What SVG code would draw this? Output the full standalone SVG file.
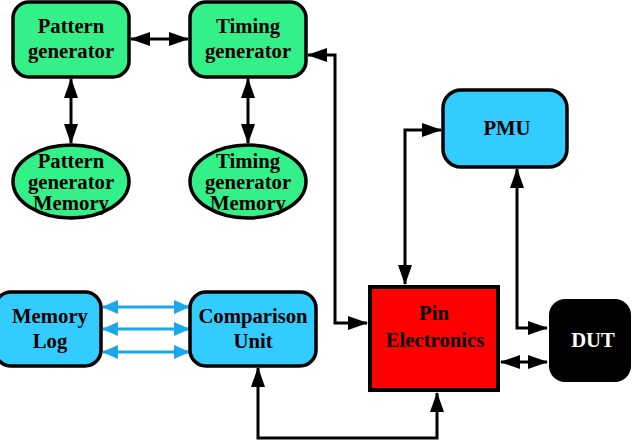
<svg xmlns="http://www.w3.org/2000/svg" width="632" height="442" viewBox="0 0 632 442">
<style>
.t{font-family:"Liberation Serif","Times New Roman",serif;font-weight:bold;font-size:20.7px;text-anchor:middle;fill:#000}
.g{fill:#33f088;stroke:#000;stroke-width:3.5}
.b{fill:#33ccff;stroke:#000;stroke-width:3.5}
.c{fill:none;stroke:#000;stroke-width:3}
.cb{fill:none;stroke:#1ba8ea;stroke-width:3}
</style>
<defs>
<marker id="ah" markerUnits="userSpaceOnUse" markerWidth="20" markerHeight="14" refX="19" refY="7" orient="auto-start-reverse" viewBox="0 0 20 14">
<path d="M0,0 L20,7 L0,14 z" fill="#000"/>
</marker>
<marker id="ahb" markerUnits="userSpaceOnUse" markerWidth="16" markerHeight="14" refX="15" refY="7" orient="auto-start-reverse" viewBox="0 0 16 14">
<path d="M0,0 L16,7 L0,14 z" fill="#1ba8ea"/>
</marker>
</defs>
<rect width="632" height="442" fill="#fff"/>
<g id="connectors">
<path class="c" d="M131,39 H188" marker-start="url(#ah)" marker-end="url(#ah)"/>
<path class="c" d="M71,79 V143" marker-start="url(#ah)" marker-end="url(#ah)"/>
<path class="c" d="M248,79 V143" marker-start="url(#ah)" marker-end="url(#ah)"/>
<path class="c" d="M308,55 H335 V323 H367" marker-start="url(#ah)" marker-end="url(#ah)"/>
<path class="c" d="M441,130 H405 V284" marker-start="url(#ah)" marker-end="url(#ah)"/>
<path class="c" d="M517,169 V328 H547" marker-start="url(#ah)" marker-end="url(#ah)"/>
<path class="c" d="M501,362 H547" marker-start="url(#ah)" marker-end="url(#ah)"/>
<path class="c" d="M258,368 V438 H437 V393" marker-start="url(#ah)" marker-end="url(#ah)"/>
<path class="cb" d="M103,307 H189" marker-start="url(#ahb)" marker-end="url(#ahb)"/>
<path class="cb" d="M103,329 H189" marker-start="url(#ahb)" marker-end="url(#ahb)"/>
<path class="cb" d="M103,352 H189" marker-start="url(#ahb)" marker-end="url(#ahb)"/>
</g>
<g id="pattern-generator">
<rect class="g" x="13" y="2" width="116" height="75" rx="16"/>
<text class="t" x="71" y="33">Pattern</text>
<text class="t" x="71" y="58">generator</text>
</g>
<g id="timing-generator">
<rect class="g" x="190" y="2" width="116" height="75" rx="16"/>
<text class="t" x="248" y="33">Timing</text>
<text class="t" x="248" y="58">generator</text>
</g>
<g id="pattern-memory">
<ellipse class="g" cx="71" cy="181.5" rx="58" ry="36.5"/>
<text class="t" x="71" y="168">Pattern</text>
<text class="t" x="71" y="189">generator</text>
<text class="t" x="71" y="210">Memory</text>
</g>
<g id="timing-memory">
<ellipse class="g" cx="248" cy="181.5" rx="58" ry="36.5"/>
<text class="t" x="248" y="168">Timing</text>
<text class="t" x="248" y="189">generator</text>
<text class="t" x="248" y="210">Memory</text>
</g>
<g id="pmu">
<rect class="b" x="443" y="90" width="124" height="77" rx="18"/>
<text class="t" x="507" y="135">PMU</text>
</g>
<g id="memory-log">
<rect class="b" x="-5" y="292" width="106" height="74" rx="16"/>
<text class="t" x="50" y="323">Memory</text>
<text class="t" x="50" y="348">Log</text>
</g>
<g id="comparison-unit">
<rect class="b" x="190" y="292" width="126" height="74" rx="16"/>
<text class="t" x="253" y="323">Comparison</text>
<text class="t" x="253" y="348">Unit</text>
</g>
<g id="pin-electronics">
<rect x="370" y="287" width="128" height="103" fill="#ff0000" stroke="#000" stroke-width="4"/>
<text class="t" x="434" y="320">Pin</text>
<text class="t" x="435" y="347">Electronics</text>
</g>
<g id="dut">
<rect x="549" y="299" width="82" height="83" rx="16" fill="#000"/>
<text class="t" x="593" y="347" style="fill:#fff">DUT</text>
</g>
</svg>
